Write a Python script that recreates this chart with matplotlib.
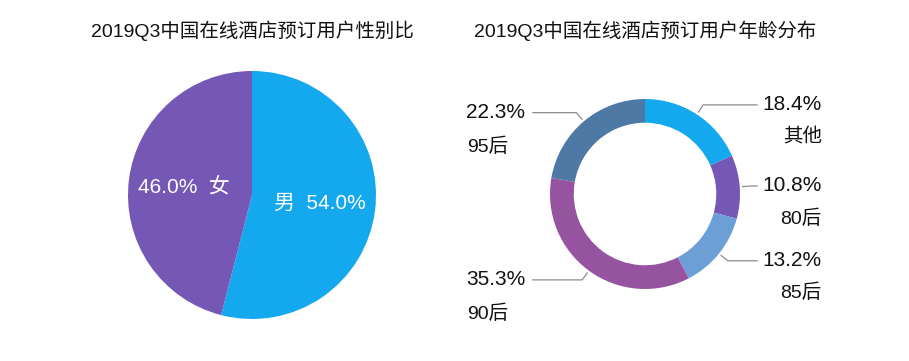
import numpy as np
import matplotlib
matplotlib.use("Agg")
import matplotlib.pyplot as plt

plt.rcParams['font.family'] = ['Liberation Sans', 'Noto Sans CJK SC', 'DejaVu Sans']

# gender split
gender_labels = ['男', '女']
gender_values = [54.0, 46.0]
gender_colors = ['#14a8ef', '#7558b6']

# age split
age_labels = ['其他', '80后', '85后', '90后', '95后']
age_values = [18.4, 10.8, 13.2, 35.3, 22.3]
age_colors = ['#14a8ef', '#7558b6', '#6c9fd6', '#9553a0', '#4e79a4']

titles = ['2019Q3中国在线酒店预订用户性别比', '2019Q3中国在线酒店预订用户年龄分布']

W, H = 909, 361
fig = plt.figure(figsize=(W / 100, H / 100), dpi=100)


def px_axes(cx, cy, r):
    # square axes centred on pixel (cx, cy) from the top-left, radius r px
    return fig.add_axes([(cx - r) / W, (H - cy - r) / H, 2 * r / W, 2 * r / H])


# ---- left pie
ax1 = px_axes(252, 195, 124)
wedges, texts = ax1.pie(gender_values, colors=gender_colors, startangle=90,
                        counterclock=False, radius=1,
                        labels=None, wedgeprops=dict(linewidth=0))
total = sum(gender_values)
cum = 0
for name, v in zip(gender_labels, gender_values):
    mid = 90 - 360 * (cum + v / 2) / total
    cum += v
    x, y = 0.55 * np.cos(np.radians(mid)), 0.55 * np.sin(np.radians(mid))
    if x > 0:
        s = f'{name}  {v:.1f}%'
    else:
        s = f'{v:.1f}%  {name}'
    ax1.text(x, y, s, color='white', fontsize=15, ha='center', va='center')
ax1.set_xlim(-1, 1)
ax1.set_ylim(-1, 1)
ax1.set_aspect('equal')
ax1.axis('off')

# ---- right donut
ax2 = px_axes(645, 194, 95)
ax2.pie(age_values, colors=age_colors, startangle=90, counterclock=False,
        radius=1, wedgeprops=dict(width=0.25, linewidth=0))
total = sum(age_values)
cum = 0
for name, v in zip(age_labels, age_values):
    mid = np.radians(90 - 360 * (cum + v / 2) / total)
    cum += v
    c, s = np.cos(mid), np.sin(mid)
    x0, y0 = 1.03 * c, 1.03 * s
    x1, y1 = 1.12 * c, 1.12 * s
    side = 1 if c > 0 else -1
    x2 = 1.18 * side
    ax2.plot([x0, x1, x2], [y0, y1, y1], color='#8c8c8c', lw=0.9, clip_on=False)
    if side > 0:
        ax2.text(1.86, y1, f'{v:.1f}%', fontsize=15, ha='right', va='center', color='#111111')
        ax2.text(1.86, y1 - 0.34, name, fontsize=14, ha='right', va='center', color='#111111')
    else:
        ax2.text(-1.88, y1, f'{v:.1f}%', fontsize=15, ha='left', va='center', color='#111111')
        ax2.text(-1.87, y1 - 0.36, name, fontsize=14, ha='left', va='center', color='#111111')
ax2.set_xlim(-1, 1)
ax2.set_ylim(-1, 1)
ax2.set_aspect('equal')
ax2.axis('off')

# titles
fig.text(252 / W, 1 - 31 / H, titles[0], fontsize=14, ha='center', va='center', color='#111111')
fig.text(645 / W, 1 - 31 / H, titles[1], fontsize=14, ha='center', va='center', color='#111111')

fig.savefig('out.png', dpi=100, facecolor='white')
